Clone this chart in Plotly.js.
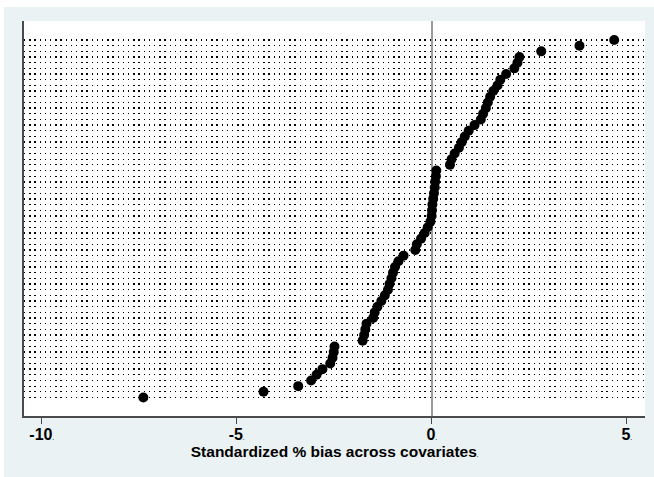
<!DOCTYPE html>
<html>
<head>
<meta charset="utf-8">
<script src="https://cdn.plot.ly/plotly-3.0.1.min.js"></script>
<style>
  html, body { margin: 0; padding: 0; background: #ffffff; }
  #frame { position: absolute; left: 4px; top: 7px; width: 650px; height: 470px; background: #EAF2F3; }
  #chart { width: 650px; height: 470px; }
</style>
</head>
<body>
<div id="frame"><div id="chart"></div></div>
<script>
// Standardized % bias for each covariate, sorted from largest (top) to smallest (bottom)
const biasValues = [
  4.68, 3.79, 2.81, 2.25, 2.20, 2.12, 1.91, 1.76, 1.69, 1.58,
  1.50, 1.44, 1.39, 1.32, 1.26, 1.10, 0.95, 0.85, 0.77, 0.70,
  0.59, 0.51, 0.47, 0.12, 0.11, 0.09, 0.08, 0.06, 0.04, 0.02,
  0.01, 0.00, -0.03, -0.10, -0.18, -0.27, -0.38, -0.42, -0.72, -0.85,
  -0.94, -0.99, -1.03, -1.08, -1.12, -1.20, -1.29, -1.39, -1.46, -1.50,
  -1.67, -1.70, -1.73, -1.77, -2.49, -2.51, -2.54, -2.60, -2.80, -2.95,
  -3.09, -3.42, -4.31, -7.39
];
const xTickValues = [-10, -5, 0, 5];
const xTickLabels = ["-10", "-5", "0", "5"];
const xTitle = "Standardized % bias across covariates";

const n = biasValues.length;
// rank position of each covariate: first (largest) at top
const ranks = biasValues.map((v, i) => n - i);

const tinyDot = "<span style='font-size:5px'>.</span>";
const FONT = "Liberation Sans, Arial, sans-serif";

const trace = {
  type: "scatter",
  mode: "markers",
  x: biasValues,
  y: ranks,
  marker: { color: "#000000", size: 10, symbol: "circle", line: { width: 0 } },
  hoverinfo: "x",
  cliponaxis: false
};

const s = 357.5 / (n - 1);       // pixel spacing between covariate lines
const yLow = 1 - 18.5 / s;
const yHigh = n + 19 / s;

const layout = {
  width: 650,
  height: 470,
  margin: { l: 20, r: 9, t: 14, b: 61, pad: 0 },
  paper_bgcolor: "rgba(0,0,0,0)",
  plot_bgcolor: "#ffffff",
  showlegend: false,
  font: { family: FONT, color: "#000000" },
  xaxis: {
    range: [-10.45, 5.47],
    tickmode: "array",
    tickvals: xTickValues,
    ticktext: xTickLabels.map(t => t + tinyDot),
    ticks: "outside",
    ticklen: 6,
    tickwidth: 1.2,
    tickcolor: "#4a4a4a",
    ticklabelstandoff: -3,
    tickfont: { size: 16, family: FONT, weight: "bold", color: "#000" },
    showgrid: false,
    zeroline: true,
    zerolinecolor: "#9c9c9c",
    zerolinewidth: 1.8,
    showline: true,
    linecolor: "#4a4a4a",
    linewidth: 1.6,
    title: {
      text: xTitle + tinyDot,
      font: { size: 15.5, family: FONT, weight: "bold", color: "#000" },
      standoff: 2
    },
    fixedrange: true
  },
  yaxis: {
    range: [yLow, yHigh],
    tickmode: "array",
    tickvals: ranks,
    showticklabels: false,
    ticks: "",
    showgrid: true,
    gridcolor: "#000000",
    gridwidth: 1.3,
    griddash: "1.3px,3.9px",
    zeroline: false,
    showline: true,
    linecolor: "#4a4a4a",
    linewidth: 1.6,
    fixedrange: true
  }
};

Plotly.newPlot("chart", [trace], layout, { displayModeBar: false, staticPlot: true });
</script>
</body>
</html>
